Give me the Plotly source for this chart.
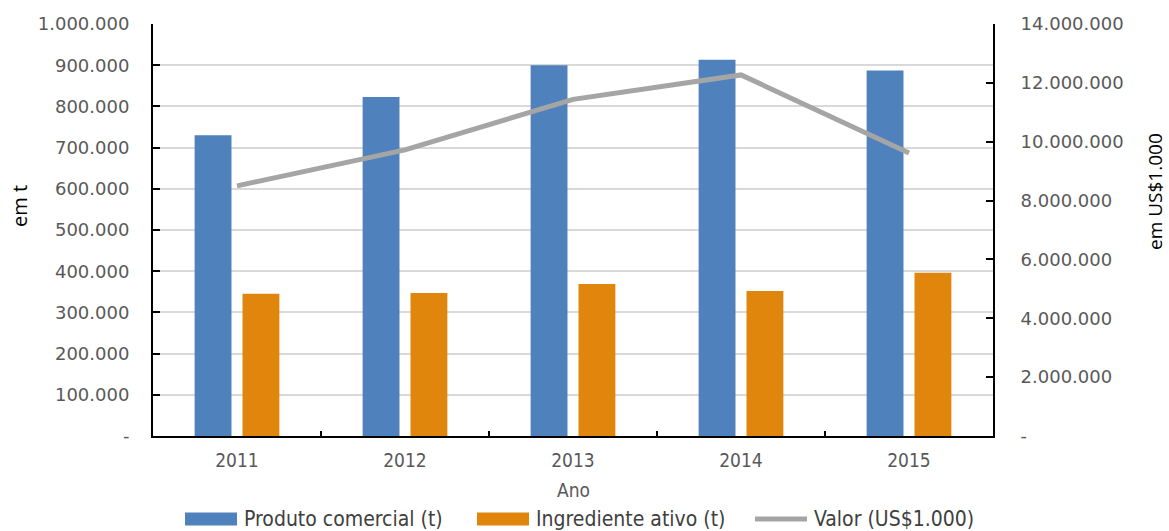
import plotly.graph_objects as go

anos = ["2011", "2012", "2013", "2014", "2015"]
produto_comercial = [730000, 823000, 900000, 913000, 887000]
ingrediente_ativo = [345000, 347000, 369000, 352000, 396000]
valor = [8500000, 9720000, 11440000, 12270000, 9620000]

left_ticks = [0, 100000, 200000, 300000, 400000, 500000, 600000, 700000, 800000, 900000, 1000000]
left_text = ["-", "100.000", "200.000", "300.000", "400.000", "500.000", "600.000",
             "700.000", "800.000", "900.000", "1.000.000"]
right_ticks = [0, 2000000, 4000000, 6000000, 8000000, 10000000, 12000000, 14000000]
right_text = ["-", "2.000.000", "4.000.000", "6.000.000", "8.000.000", "10.000.000",
              "12.000.000", "14.000.000"]

series_names = ["Produto comercial (t)", "Ingrediente ativo (t)", "Valor (US$1.000)"]
series_colors = ["#4F81BD", "#E0860C", "#A5A5A5"]

TICKFONT = "DejaVu Sans, sans-serif"
CONDFONT = "DejaVu Sans Condensed, DejaVu Sans, sans-serif"
TITLEFONT = "Open Sans, DejaVu Sans, sans-serif"

W, H = 1169, 531
L, R, T, B = 153, 176, 24, 95
PW = W - L - R
PH = H - T - B


def px(x):
    return (x - L) / PW


def py(y):
    return (H - B - y) / PH


fig = go.Figure()
fig.add_trace(go.Bar(x=anos, y=produto_comercial, name=series_names[0],
                     marker=dict(color=series_colors[0], line=dict(width=0))))
fig.add_trace(go.Bar(x=anos, y=ingrediente_ativo, name=series_names[1],
                     marker=dict(color=series_colors[1], line=dict(width=0))))
fig.add_trace(go.Scatter(x=anos, y=valor, name=series_names[2], yaxis="y2",
                         mode="lines", line=dict(color=series_colors[2], width=5)))

annotations = []
shapes = []

# axis titles
annotations.append(dict(text="em t", x=px(19), y=py(206), xref="paper", yref="paper",
                        xanchor="center", yanchor="middle",
                        showarrow=False, textangle=-90, borderpad=0,
                        font=dict(family=TITLEFONT, size=20, color="#000000")))
annotations.append(dict(text="em US$1.000", x=px(1155), y=py(192), xref="paper", yref="paper",
                        xanchor="center", yanchor="middle",
                        showarrow=False, textangle=-90, borderpad=0,
                        font=dict(family=TITLEFONT, size=19, color="#000000")))
annotations.append(dict(text="Ano", x=0.5, y=py(490), xref="paper", yref="paper",
                        xanchor="center", yanchor="middle",
                        showarrow=False,
                        font=dict(family=CONDFONT, size=19, color="#595959")))

# custom legend
leg_y = 519
sw_x = [185, 477, 755]
sw_w = 52
for i, (name, col) in enumerate(zip(series_names, series_colors)):
    x0 = sw_x[i]
    if i < 2:
        shapes.append(dict(type="rect", xref="paper", yref="paper",
                           x0=px(x0), x1=px(x0 + sw_w), y0=py(leg_y + 6.5), y1=py(leg_y - 6.5),
                           fillcolor=col, line=dict(width=0)))
    else:
        shapes.append(dict(type="line", xref="paper", yref="paper",
                           x0=px(x0), x1=px(x0 + sw_w), y0=py(leg_y), y1=py(leg_y),
                           line=dict(color=col, width=5)))
    annotations.append(dict(text=name, x=px(x0 + sw_w + 5), y=py(leg_y), xref="paper", yref="paper",
                            xanchor="left", yanchor="middle", showarrow=False,
                            font=dict(family=CONDFONT, size=21, color="#404040")))

fig.update_layout(
    width=W, height=H,
    margin=dict(l=L, r=R, t=T, b=B, autoexpand=False),
    plot_bgcolor="white", paper_bgcolor="white",
    font=dict(family=TICKFONT, size=18, color="#595959"),
    barmode="group", bargap=0.43, bargroupgap=0.23,
    showlegend=False,
    annotations=annotations,
    shapes=shapes,
    xaxis=dict(
        showline=True, linecolor="black", linewidth=2,
        ticks="inside", tickson="boundaries", ticklen=5, tickcolor="black", tickwidth=2,
        tickfont=dict(family=CONDFONT, size=19, color="#595959"),
        ticklabelstandoff=6, automargin=False,
    ),
    yaxis=dict(
        range=[0, 1000000], tickvals=left_ticks, ticktext=left_text,
        showline=True, linecolor="black", linewidth=2,
        ticks="inside", ticklen=7, tickcolor="black", tickwidth=2,
        gridcolor="#D9D9D9", gridwidth=2, zeroline=False,
        ticklabelstandoff=18, automargin=False,
    ),
    yaxis2=dict(
        overlaying="y", side="right",
        range=[0, 14000000], tickvals=right_ticks, ticktext=right_text,
        showline=True, linecolor="black", linewidth=2,
        ticks="inside", ticklen=7, tickcolor="black", tickwidth=2,
        showgrid=False, zeroline=False,
        ticklabelstandoff=22, automargin=False,
    ),
)

fig.write_html("out.html")
